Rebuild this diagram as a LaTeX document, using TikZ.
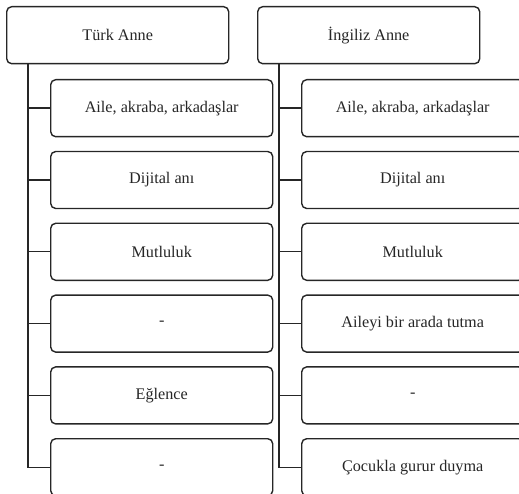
\documentclass[tikz,border=0pt]{standalone}
\usepackage{fontspec}
\setmainfont{Liberation Serif}
\begin{document}
\begin{tikzpicture}[x=1pt,y=-1pt,
  box/.style={draw=black!85,line width=1.4pt,rounded corners=5pt,minimum width=222pt,minimum height=57pt,inner sep=0pt,anchor=north west,font=\fontsize{16.2}{19}\selectfont,text=black!85},
  conn/.style={draw=black!85,line width=1.4pt}]
\useasboundingbox (0,0) rectangle (519,494);
\clip (0,0) rectangle (519,494);
\node[box] (h1) at (6,6) {Türk Anne};
\node[box] (h2) at (257,6) {İngiliz Anne};
\foreach \i/\t in {1/{Aile, akraba, arkadaşlar},2/{Dijital anı},3/{Mutluluk},4/{-},5/{Eğlence},6/{-}}{
  \node[box] (a\i) at (50,{79+71.8*(\i-1)}) {\t};
}
\foreach \i/\t in {1/{Aile, akraba, arkadaşlar},2/{Dijital anı},3/{Mutluluk},4/{Aileyi bir arada tutma},5/{-},6/{Çocukla gurur duyma}}{
  \node[box] (b\i) at (301,{79+71.8*(\i-1)}) {\t};
}
\coordinate (t1) at (28,0);
\coordinate (t2) at (279,0);
\draw[conn] (h1.south -| t1) |- (a6.west);
\draw[conn] (h2.south -| t2) |- (b6.west);
\foreach \i in {1,...,5}{
  \draw[conn] (a\i.west -| t1) -- (a\i.west);
  \draw[conn] (b\i.west -| t2) -- (b\i.west);
}
\end{tikzpicture}
\end{document}
